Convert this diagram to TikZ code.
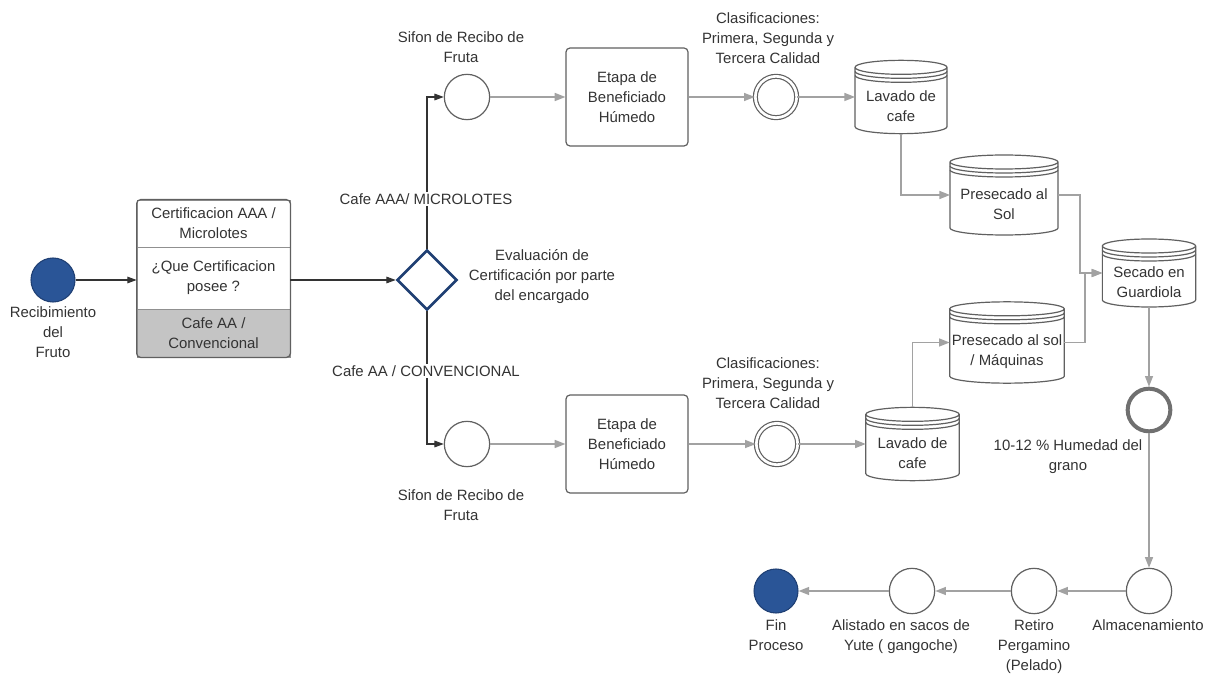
\documentclass[tikz,border=0pt]{standalone}
\usepackage{fontspec}
\setmainfont{Liberation Sans}
\usetikzlibrary{shapes.geometric,arrows.meta}
\definecolor{eventblue}{HTML}{2A5597}
\definecolor{navy}{HTML}{1F3F73}
\definecolor{flowgray}{HTML}{A2A2A2}
\definecolor{edgegray}{HTML}{606060}
\definecolor{inkgray}{HTML}{333333}
\definecolor{lanegray}{HTML}{C4C4C4}
% cylinder with two rims under the lid
\newcommand{\drum}[5]{%
  \node[drumbox,minimum width=#3,minimum height=#4] (#1) at #2 {};
  \draw[drumline] ([yshift=-5.25pt]#1.north west)
    -- ([yshift=5.25pt]#1.south west)
    arc[start angle=180,end angle=360,x radius=#3/2,y radius=5.25pt]
    -- ([yshift=-5.25pt]#1.north east)
    arc[start angle=0,end angle=360,x radius=#3/2,y radius=5.25pt];
  \foreach \rim in {8.25pt,11.25pt}
    \draw[drumline] ([yshift=-\rim]#1.north west)
      arc[start angle=180,end angle=360,x radius=#3/2,y radius=5.25pt];
  \node[lbl] at ([yshift=-7pt]#1.center) {#5};
}

\begin{document}
\begin{tikzpicture}[
    x=0.75pt,y=0.75pt,
    every node/.style={font=\fontsize{11.2}{15}\selectfont,text=inkgray},
    lbl/.style={align=center,inner sep=0pt},
    event/.style={circle,draw=edgegray,line width=0.9pt,fill=white,minimum size=34pt,inner sep=0pt},
    terminal/.style={circle,draw=navy,line width=0.8pt,fill=eventblue,minimum size=33pt,inner sep=0pt},
    gate/.style={circle,draw=edgegray,fill=white,double=white,double distance=2pt,line width=0.9pt,minimum size=31pt,inner sep=0pt},
    checkpt/.style={circle,draw=edgegray!90,line width=3pt,minimum size=32pt,inner sep=0pt},
    decision/.style={diamond,draw=navy,line width=2pt,fill=white,minimum size=45pt,inner sep=0pt},
    task/.style={rectangle,rounded corners=3pt,draw=edgegray,line width=0.9pt,minimum width=91.5pt,minimum height=73.5pt,align=center},
    lanerow/.style={rectangle,draw=edgegray!70,line width=0.6pt,minimum width=114.75pt,align=center,inner sep=0pt},
    drumbox/.style={rectangle,inner sep=0pt,outer sep=0pt},
    drumline/.style={draw=edgegray,line width=0.9pt},
    flow/.style={draw=flowgray,line width=1.1pt,-{Triangle[length=8pt,width=6pt]}},
    ctrl/.style={draw=inkgray,line width=0.8pt,-{Triangle[length=7pt,width=5pt]}}
  ]
  \useasboundingbox (0,0) rectangle (1209,-677);

  % start and certification lane
  \node[terminal] (start) at (53,-280) {};
  \node[lbl] (startlbl) at (53,-332) {Recibimiento\\del\\Fruto};
  \node[lanerow,minimum height=35.25pt] (certtop) at (213.5,-223.5) {Certificacion AAA /\\Microlotes};
  \node[lanerow,minimum height=46.5pt] (certmid) at (213.5,-278) {¿Que Certificacion\\posee ?};
  \node[lanerow,minimum height=36pt,fill=lanegray] (certbot) at (213.5,-333) {Cafe AA /\\Convencional};
  \draw[edgegray,line width=0.9pt,rounded corners=3pt] (certtop.north west) rectangle (certbot.south east);

  \node[decision] (eval) at (427,-280) {};
  \node[lbl] (evallbl) at (542,-277) {Evaluación de\\Certificación por parte\\del encargado};

  % upper branch
  \node[event] (sifA) at (467,-97) {};
  \node[lbl] (sifAlbl) at (461,-47) {Sifon de Recibo de\\Fruta};
  \node[task] (etapaA) at (627,-97) {Etapa de\\Beneficiado\\Húmedo};
  \node[gate] (clasA) at (776,-97) {};
  \node[lbl] (clasAlbl) at (768,-38) {Clasificaciones:\\Primera, Segunda y\\Tercera Calidad};
  \drum{lavA}{(901,-97)}{69pt}{55pt}{Lavado de\\cafe}
  \drum{presolA}{(1004,-195)}{81pt}{60pt}{Presecado al\\Sol}
  \drum{secado}{(1149,-273)}{70pt}{51pt}{Secado en\\Guardiola}

  % lower branch
  \node[event] (sifB) at (467,-444) {};
  \node[lbl] (sifBlbl) at (461,-505) {Sifon de Recibo de\\Fruta};
  \node[task] (etapaB) at (627,-444) {Etapa de\\Beneficiado\\Húmedo};
  \node[gate] (clasB) at (777,-444) {};
  \node[lbl] (clasBlbl) at (768,-383) {Clasificaciones:\\Primera, Segunda y\\Tercera Calidad};
  \drum{lavB}{(912.5,-444)}{70pt}{55pt}{Lavado de\\cafe}
  \drum{presolB}{(1007,-342.5)}{86pt}{61pt}{Presecado al sol\\/ Máquinas}

  % drying and closing
  \node[checkpt] (humid) at (1149,-410) {};
  \node[lbl] (humidlbl) at (1068,-457) {10-12 \% Humedad del\\grano};
  \node[event] (almac) at (1149,-591) {};
  \node[lbl] (almaclbl) at (1148,-625) {Almacenamiento};
  \node[event] (retiro) at (1034,-591) {};
  \node[lbl] (retirolbl) at (1034,-647) {Retiro\\Pergamino\\(Pelado)};
  \node[event] (alist) at (912,-591) {};
  \node[lbl] (alistlbl) at (901,-637) {Alistado en sacos de\\Yute ( gangoche)};
  \node[terminal] (fin) at (776,-591) {};
  \node[lbl] (finlbl) at (776,-635) {Fin\\Proceso};

  \coordinate (mergeA) at (1080,-273);
  \coordinate (mergeB) at (1085,-273);

  % connectors
  \draw[ctrl] (start.east) -- (start.east -| certmid.west);
  \draw[ctrl] (certmid.east |- eval.west) -- (eval.west);
  \draw[ctrl] (eval.north) |- (sifA.west);
  \draw[ctrl] (eval.south) |- (sifB.west);
  \node[lbl,fill=white,inner sep=1.5pt] (aaalbl) at (426,-199) {Cafe AAA/ MICROLOTES};
  \node[lbl,fill=white,inner sep=1.5pt] (aalbl) at (426,-371) {Cafe AA / CONVENCIONAL};

  \draw[flow] (sifA) -- (etapaA);
  \draw[flow] (etapaA) -- (clasA);
  \draw[flow] (clasA) -- (lavA.west);
  \draw[flow] (lavA.south) |- (presolA.west);
  \draw[flow] (presolA.east) -| (mergeA) -- (secado.west);

  \draw[flow] (sifB) -- (etapaB);
  \draw[flow] (etapaB) -- (clasB);
  \draw[flow] (clasB) -- (lavB.west);
  \draw[flow] (lavB.north) |- (presolB.west);
  \draw[flow] (presolB.east) -| (mergeB) -- (secado.west);

  \draw[flow] (secado.south) -- (humid.north);
  \draw[flow] (humid.south) -- (almac.north);
  \draw[flow] (almac) -- (retiro);
  \draw[flow] (retiro) -- (alist);
  \draw[flow] (alist) -- (fin);
\end{tikzpicture}
\end{document}
